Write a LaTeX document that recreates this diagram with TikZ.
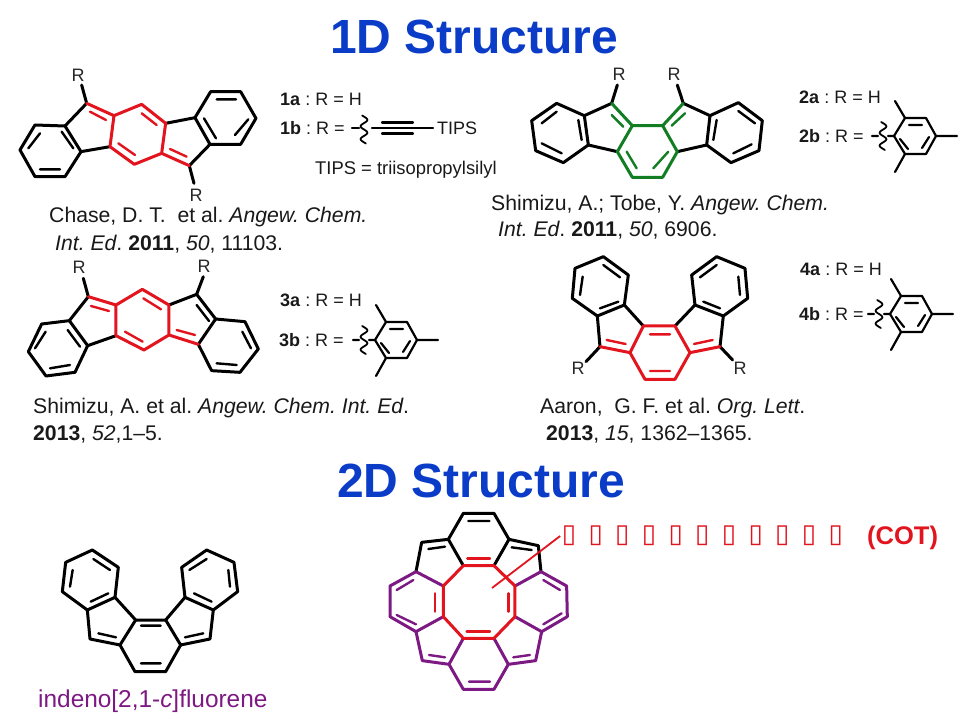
\documentclass[tikz,border=0pt]{standalone}
\usepackage{fontspec}
\setmainfont{Liberation Sans}
\newfontfamily\boxfont{DejaVu Sans}
\frenchspacing

\definecolor{titleblue}{RGB}{10,60,200}
\definecolor{cotred}{RGB}{226,20,30}
\definecolor{molgreen}{RGB}{18,125,35}
\definecolor{molpurple}{RGB}{125,25,130}

\tikzset{
    bond/.style={line width=3pt,line join=round,line cap=round},
    inbond/.style={line width=2.4pt,line cap=round},
    thinbond/.style={line width=2.2pt,line join=round,line cap=round},
    wavy/.style={line width=1.8pt,line cap=round},
    molat/.style={shift={(#1)},x=0.3333pt,y=-0.3333pt},
    heading/.style={anchor=base west,inner sep=0pt,text=titleblue,font=\fontsize{48}{50}\selectfont\bfseries},
    cite/.style={anchor=base west,inner sep=0pt,text=black!90,font=\fontsize{21.2}{23}\selectfont},
    rlabel/.style={anchor=center,inner sep=0pt,text=black!85,font=\fontsize{18}{20}\selectfont},
    series/.style={anchor=base west,inner sep=0pt,text=black!90,font=\fontsize{18}{20}\selectfont},
    tofu/.style={inner sep=1.5pt,text=cotred,font=\boxfont\fontsize{26}{28}\selectfont},
    wave/.pic={
        \draw[wavy] plot[smooth,domain=-14:14,samples=33] ({3.4*sin(\x*28)},\x);
    },
    mes/.pic={
        \draw[thinbond] (0,0)--(11,-18)--(32,-18)--(42,0)--(32,18)--(11,18)--cycle;
        \draw[thinbond] (11,-18)--(1,-35) (11,18)--(1,36) (42,0)--(63,0) (-6,0)--(0,0) (-22,0)--(-16,0);
        \draw[thinbond] (15,-11)--(28,-11) (6,3)--(14,13) (28,12)--(35,1);
        \pic at (-11,0) {wave};
    }
}

\begin{document}
\begin{tikzpicture}[x=1pt,y=-1pt]
    \useasboundingbox (0,0) rectangle (960,720);

    % 1D molecules
    \begin{scope}[molat={0,50}]
        \draw[bond] (60,300)--(105,225)--(195,228)--(243,305)--(195,380)--(105,380)--cycle;
        \draw[bond] (195,228)--(260,160) (330,290)--(243,305) (497,220)--(585,203) (568,347)--(630,283);
        \draw[bond] (585,203)--(632,125)--(722,125)--(768,205)--(722,283)--(630,283)--cycle;
        \draw[bond] (260,160)--(245,105) (568,347)--(582,400);
        \draw[inbond] (85,295)--(120,250) (185,245)--(220,295) (120,358)--(180,358) (612,205)--(648,265) (650,148)--(708,148) (705,255)--(745,208);
        \draw[bond,cotred] (260,160)--(342,197)--(425,163)--(497,220)--(485,310)--(403,343)--(330,290)--(342,197) (485,310)--(568,347);
        \draw[inbond,cotred] (270,185)--(318,210) (425,190)--(470,225) (355,280)--(405,315) (510,297)--(560,320);
    \end{scope}
    \begin{scope}[molat={520,55}]
        \draw[bond] (35,197)--(110,145)--(193,182)--(205,270)--(130,323)--(47,287)--cycle;
        \draw[bond] (193,182)--(275,145) (292,290)--(205,270) (490,145)--(570,182) (560,270)--(472,290);
        \draw[bond] (570,182)--(655,143)--(727,197)--(717,287)--(633,323)--(560,270)--cycle;
        \draw[bond] (275,145)--(292,90) (490,145)--(472,90);
        \draw[inbond] (65,205)--(110,170) (175,195)--(185,255) (125,295)--(65,265) (655,168)--(705,205) (590,195)--(580,255) (640,295)--(695,268);
        \draw[bond,molgreen] (275,145)--(337,212)--(292,290)--(337,367)--(428,367)--(472,290)--(428,212)--(337,212) (428,212)--(490,145);
        \draw[inbond,molgreen] (275,180)--(310,215) (320,290)--(350,340) (400,340)--(445,290) (455,212)--(495,175);
    \end{scope}
    \begin{scope}[molat={15,250}]
        \draw[bond] (40,305)--(80,222)--(163,212)--(218,287)--(180,367)--(93,378)--cycle;
        \draw[bond] (163,212)--(220,140) (303,257)--(218,287) (462,165)--(545,133)--(602,207) (550,283)--(602,207);
        \draw[bond] (602,207)--(690,215)--(730,297)--(675,367)--(590,362)--(550,283);
        \draw[bond] (220,140)--(205,85) (545,133)--(565,80);
        \draw[inbond] (60,295)--(92,245) (158,240)--(195,290) (165,345)--(105,355) (545,165)--(582,213) (682,245)--(708,295) (665,345)--(605,340);
        \draw[bond,cotred] (220,140)--(303,165)--(382,118)--(462,165)--(462,255)--(387,300)--(303,257)--(303,165) (462,255)--(550,283);
        \draw[inbond,cotred] (228,168)--(282,183) (385,145)--(438,178) (330,245)--(383,275) (485,240)--(540,255);
    \end{scope}
    \begin{scope}[molat={560,245}]
        \draw[bond] (37,160)--(45,70)--(130,35)--(205,90)--(193,180)--(112,213)--cycle;
        \draw[bond] (193,180)--(250,243) (120,305)--(112,213) (345,243)--(405,180) (480,305)--(490,213);
        \draw[bond] (405,180)--(395,90)--(470,35)--(555,70)--(563,160)--(490,213)--cycle;
        \draw[bond] (120,305)--(78,350) (480,305)--(518,345);
        \draw[inbond] (60,150)--(68,95) (130,60)--(180,97) (175,170)--(120,190) (420,97)--(470,60) (535,95)--(540,150) (430,170)--(480,190);
        \draw[bond,cotred] (250,243)--(345,243)--(390,323)--(345,403)--(255,403)--(210,323)--cycle (120,305)--(210,323) (480,305)--(390,323);
        \draw[inbond,cotred] (140,285)--(197,297) (270,268)--(330,268) (270,378)--(330,378) (402,297)--(458,285);
    \end{scope}

    % substituents
    \pic at (894,136) {mes};
    \pic at (375,340) {mes};
    \pic at (890,314) {mes};
    \draw[thinbond] (352,128)--(359,128) (372,128)--(433,128) (382,122.5)--(413,122.5) (382,133.5)--(413,133.5);
    \pic at (364,129.5) {wave};

    % 2D molecules
    \begin{scope}[molat={30,535}]
        \draw[bond] (97,170)--(107,82)--(187,45)--(265,97)--(255,187)--(172,225)--cycle;
        \draw[bond] (255,187)--(317,255)--(407,255)--(465,187) (172,225)--(180,312)--(270,330)--(317,255);
        \draw[bond] (407,255)--(452,330)--(540,312)--(550,225);
        \draw[bond] (270,330)--(315,410)--(407,410)--(452,330);
        \draw[bond] (465,187)--(455,97)--(530,45)--(612,82)--(623,170)--(550,225)--cycle;
        \draw[inbond] (120,155)--(128,105) (190,72)--(240,105) (235,175)--(182,200) (205,295)--(258,307) (333,272)--(392,272) (333,385)--(392,385);
        \draw[inbond] (465,307)--(520,295) (478,105)--(530,72) (595,105)--(600,155) (492,175)--(545,200);
    \end{scope}
    \begin{scope}[molat={380,505}]
        \draw[bond] (250,182)--(205,103)--(250,25)--(342,25)--(387,103)--(342,182);
        \draw[bond] (205,103)--(125,112)--(108,200) (387,103)--(475,122)--(483,200);
        \draw[inbond] (265,48)--(328,48) (145,132)--(195,125) (395,127)--(455,135);
        \draw[bond,molpurple] (190,243)--(108,200)--(30,243)--(30,335)--(108,380)--(190,335);
        \draw[bond,molpurple] (405,243)--(483,200)--(560,243)--(562,335)--(485,380)--(405,335);
        \draw[bond,molpurple] (108,380)--(127,467)--(207,478)--(250,553)--(342,553)--(385,478)--(467,467)--(485,380);
        \draw[bond,molpurple] (250,400)--(207,478) (342,400)--(385,478);
        \draw[inbond,molpurple] (50,255)--(100,225) (50,330)--(108,358) (490,225)--(540,255) (490,358)--(545,325);
        \draw[inbond,molpurple] (147,450)--(195,457) (400,457)--(450,450) (267,530)--(330,530);
        \draw[bond,cotred] (250,182)--(342,182)--(405,243)--(405,335)--(342,400)--(250,400)--(190,335)--(190,243)--cycle;
        \draw[inbond,cotred] (262,160)--(330,160) (165,265)--(165,320) (385,265)--(385,320) (260,380)--(330,380);
    \end{scope}

    % labels
    \node[heading] (title1d) at (330,53) {1D Structure};
    \node[heading] (title2d) at (337,497) {2D Structure};

    \node[rlabel] (r1a) at (78,75) {R};
    \node[rlabel] (r1b) at (196,195) {R};
    \node[rlabel] (r2a) at (619,74) {R};
    \node[rlabel] (r2b) at (674,74) {R};
    \node[rlabel] (r3a) at (79,267) {R};
    \node[rlabel] (r3b) at (204,266) {R};
    \node[rlabel] (r4a) at (578,368) {R};
    \node[rlabel] (r4b) at (740,368) {R};

    \node[series] (s1a) at (280,105) {\textbf{1a} : R = H};
    \node[series] (s1b) at (280,134) {\textbf{1b} : R =};
    \node[series] (tips) at (437,134) {TIPS};
    \node[series,font=\fontsize{18.4}{20}\selectfont] (tipsdef) at (315,174) {TIPS = triisopropylsilyl};
    \node[series] (s2a) at (799,103) {\textbf{2a} : R = H};
    \node[series] (s2b) at (799,142) {\textbf{2b} : R =};
    \node[series] (s3a) at (280,306) {\textbf{3a} : R = H};
    \node[series] (s3b) at (279,346) {\textbf{3b} : R =};
    \node[series] (s4a) at (800,275) {\textbf{4a} : R = H};
    \node[series] (s4b) at (799,320) {\textbf{4b} : R =};

    \node[cite] (c1a) at (49,222) {Chase, D. T.\ \ et al. \textit{Angew. Chem.}};
    \node[cite] (c1b) at (55,250) {\textit{Int. Ed}. \textbf{2011}, \textit{50}, 11103.};
    \node[cite] (c2a) at (491,210) {Shimizu, A.; Tobe, Y. \textit{Angew. Chem.}};
    \node[cite] (c2b) at (498,236) {\textit{Int. Ed}. \textbf{2011}, \textit{50}, 6906.};
    \node[cite] (c3a) at (33,413) {Shimizu, A. et al. \textit{Angew. Chem. Int. Ed}.};
    \node[cite] (c3b) at (33,440) {\textbf{2013}, \textit{52},1--5.};
    \node[cite] (c4a) at (540,413) {Aaron,\ \ G. F. et al. \textit{Org. Lett}.};
    \node[cite] (c4b) at (546,440) {\textbf{2013}, \textit{15}, 1362--1365.};

    \node[anchor=base west,inner sep=0pt,text=molpurple,font=\fontsize{24.4}{26}\selectfont] (indeno) at (38,707) {indeno[2,1-\textit{c}]fluorene};
    \node[anchor=base west,inner sep=0pt,text=cotred,font=\fontsize{25.5}{27}\selectfont\bfseries] (cot) at (867,544) {(COT)};

    \foreach \i in {0,...,10}
        \node[tofu] (box\i) at ({569+26.67*\i},536) {▯};
    \coordinate (cotcentre) at (492,588);
    \draw[line width=1.8pt,cotred] (box0.west) -- (cotcentre);
\end{tikzpicture}
\end{document}
